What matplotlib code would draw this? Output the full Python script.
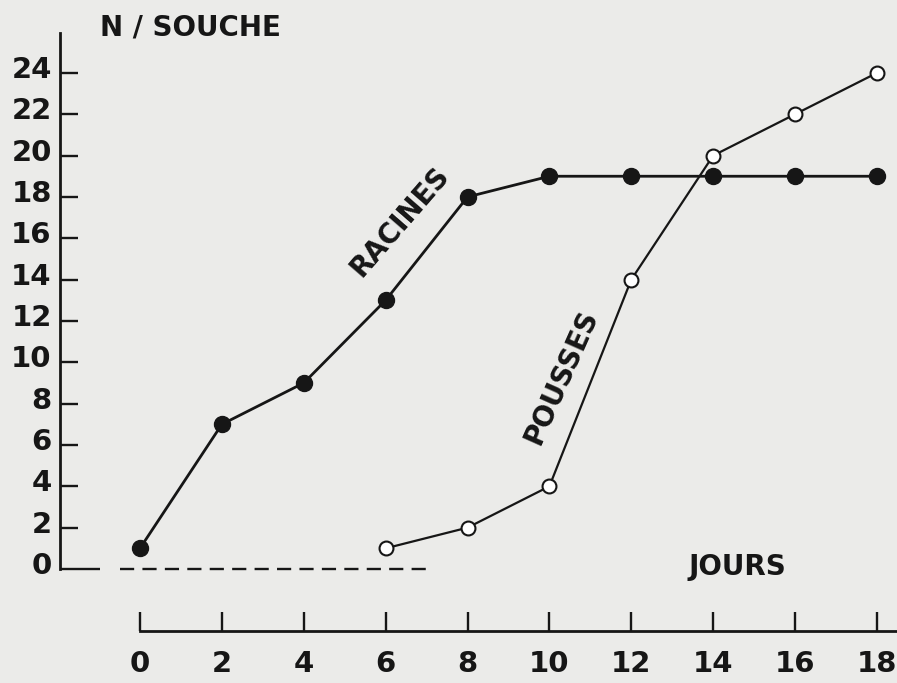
import matplotlib.pyplot as plt
import matplotlib.transforms as mtransforms

# donnees
jours = [0, 2, 4, 6, 8, 10, 12, 14, 16, 18]
racines = [1, 7, 9, 13, 18, 19, 19, 19, 19, 19]

jours_pousses = [6, 8, 10, 12, 14, 16, 18]
pousses = [1, 2, 4, 14, 20, 22, 24]

base_x = [-0.5, 7]
base_y = [0, 0]

x_ticks = [0, 2, 4, 6, 8, 10, 12, 14, 16, 18]
y_ticks = [2, 4, 6, 8, 10, 12, 14, 16, 18, 20, 22, 24]

papier = '#ebebe9'
encre = '#161616'

plt.rcParams['font.family'] = ['DejaVu Sans']
plt.rcParams['font.weight'] = 'bold'

fig = plt.figure(figsize=(8.97, 6.83), dpi=100, facecolor=papier)
ax = fig.add_axes([60 / 897, 1 - 631 / 683, 1 - 60 / 897, (631 - 33) / 683])
ax.set_facecolor('none')

ax.set_xlim(-1.954, 18.49)
ax.set_ylim(-3.0, 25.93)

# courbes
ax.plot(jours, racines, color=encre, lw=2.0, marker='o', ms=11.5,
        mfc=encre, mec=encre, zorder=3)
ax.plot(jours_pousses, pousses, color=encre, lw=1.6, marker='o', ms=10,
        mfc='white', mec=encre, mew=1.5, zorder=3)
ax.plot(base_x, base_y, color=encre, lw=1.7, dashes=(6, 3.5))

# axes
for s in ['top', 'right']:
    ax.spines[s].set_visible(False)
ax.spines['left'].set_bounds(0, 25.93)
ax.spines['bottom'].set_bounds(0, 18.49)
for s in ['left', 'bottom']:
    ax.spines[s].set_linewidth(2.0)
    ax.spines[s].set_color(encre)

ax.set_xticks(x_ticks)
ax.set_xticklabels([str(v) for v in x_ticks])
ax.set_yticks(y_ticks)
ax.set_yticklabels([str(v) for v in y_ticks])
ax.set_yticks([0], minor=True)
ax.set_yticklabels(['0'], minor=True)

ax.tick_params(axis='x', direction='in', length=14, width=1.7, pad=14,
               labelsize=21, colors=encre)
ax.tick_params(axis='y', which='major', direction='in', length=13, width=1.7,
               pad=6, labelsize=21, colors=encre)
ax.tick_params(axis='y', which='minor', direction='in', length=29, width=1.7,
               pad=6, labelsize=21, colors=encre)

decal = mtransforms.ScaledTranslation(0, 6 / 100, fig.dpi_scale_trans)
for lab in ax.get_yticklabels() + ax.get_yticklabels(minor=True):
    lab.set_transform(lab.get_transform() + decal)

# textes
fig.text(100 / 897, 1 - 28 / 683, 'N / SOUCHE', fontsize=20, color=encre,
         ha='left', va='center')
fig.text(688 / 897, 1 - 567 / 683, 'JOURS', fontsize=20, color=encre,
         ha='left', va='center')
ax.text(6.35, 16.8, 'RACINES', fontsize=20, color=encre, rotation=49,
        ha='center', va='center', rotation_mode='anchor')
ax.text(10.3, 9.3, 'POUSSES', fontsize=20, color=encre, rotation=66,
        ha='center', va='center', rotation_mode='anchor')

fig.savefig('out.png', dpi=100, facecolor=papier)
